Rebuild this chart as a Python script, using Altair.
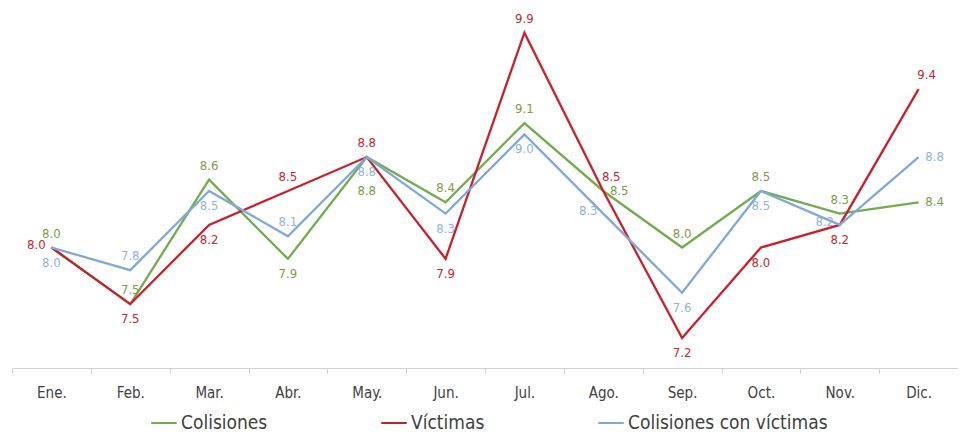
import altair as alt
import pandas as pd

months = ["Ene.", "Feb.", "Mar.", "Abr.", "May.", "Jun.", "Jul.", "Ago.", "Sep.", "Oct.", "Nov.", "Dic."]
series_names = ["Colisiones", "Víctimas", "Colisiones con víctimas"]
colisiones = [8.0, 7.5, 8.6, 7.9, 8.8, 8.4, 9.1, 8.5, 8.0, 8.5, 8.3, 8.4]
victimas = [8.0, 7.5, 8.2, 8.5, 8.8, 7.9, 9.9, 8.5, 7.2, 8.0, 8.2, 9.4]
con_victimas = [8.0, 7.8, 8.5, 8.1, 8.8, 8.3, 9.0, 8.3, 7.6, 8.5, 8.2, 8.8]

# label placement per point (style only)
place_col = ["above", "above", "above", "below", "below2", "above", "above", "right", "above", "above", "above", "right"]
place_vic = ["left", "below", "below", "above", "above", "below", "above", "aboveright", "below", "below", "below", "aboveright"]
place_cv = ["below", "above", "below", "above", "below", "below", "below", "left", "below", "below", "left", "right"]

line_colors = ["#72ac4d", "#c8202c", "#80a9da"]
label_colors = ["#7d9a45", "#c0262e", "#8fb2df"]
FONT = "Liberation Sans Narrow, DejaVu Sans Condensed, sans-serif"

rows = []
for name, vals, places in zip(series_names, [colisiones, victimas, con_victimas], [place_col, place_vic, place_cv]):
    for m, v, p in zip(months, vals, places):
        rows.append({"mes": m, "serie": name, "valor": v, "pos": p})
df = pd.DataFrame(rows)

x_enc = alt.X("mes:N", sort=months, bandPosition=0.5,
              scale=alt.Scale(type="band", paddingInner=0, paddingOuter=0),
              axis=alt.Axis(title=None, labelAngle=0, tickBand="extent", grid=False,
                            domainColor="#d0d0d0", tickColor="#d0d0d0", tickSize=5,
                            labelFont=FONT, labelFontSize=15, labelColor="#404040",
                            labelPadding=12))
y_enc = alt.Y("valor:Q", scale=alt.Scale(domain=[6.935, 10.10], zero=False, nice=False), axis=None)

base = alt.Chart(df)

lines = base.mark_line(strokeWidth=2.3).encode(
    x=x_enc,
    y=y_enc,
    color=alt.Color("serie:N", sort=series_names,
                    scale=alt.Scale(domain=series_names, range=line_colors),
                    legend=alt.Legend(title=None, orient="none", direction="horizontal",
                                      legendX=138, legendY=399, symbolType="stroke",
                                      symbolSize=650, symbolStrokeWidth=2, columnPadding=109,
                                      labelFont=FONT, labelFontSize=19, labelColor="#404040",
                                      labelOffset=3, labelLimit=0)),
    order=alt.Order("serie:N"),
)

offsets = {
    "above": (0, -14),
    "below": (0, 15),
    "below2": (0, 34),
    "left": (-15, -3),
    "right": (16, 0),
    "aboveright": (8, -14),
}

label_layers = []
for pos, (dx, dy) in offsets.items():
    label_layers.append(
        base.transform_filter(alt.datum.pos == pos).mark_text(
            dx=dx, dy=dy, font=FONT, fontSize=13, baseline="middle", align="center"
        ).encode(
            x=x_enc,
            y=y_enc,
            text=alt.Text("valor:Q", format=".1f"),
            color=alt.Color("serie:N", scale=alt.Scale(domain=series_names, range=label_colors), legend=None),
        )
    )

chart = alt.layer(lines, *label_layers).resolve_scale(color="independent").properties(
    width=946, height=358,
    background="white",
    autosize=alt.AutoSizeParams(type="none"),
    padding={"left": 4, "top": 2, "right": 0, "bottom": 66},
).configure_view(stroke=None)

chart.save("out.html", embed_options={"renderer": "svg", "actions": False})
